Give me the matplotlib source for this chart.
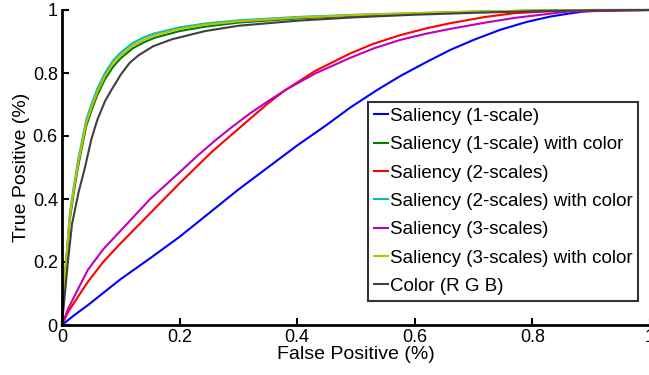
import matplotlib
matplotlib.use("Agg")
import matplotlib.pyplot as plt

plt.rcParams['font.family'] = ['Liberation Sans', 'DejaVu Sans']

# --- data ---
blue_x = [0, 0.02, 0.044, 0.1, 0.15, 0.2, 0.25, 0.3, 0.35, 0.4, 0.45, 0.49, 0.535, 0.575, 0.62, 0.66, 0.7, 0.745, 0.79, 0.83, 0.86, 0.886, 0.92, 0.95, 1.0]
blue_y = [0, 0.03, 0.063, 0.146, 0.212, 0.28, 0.355, 0.43, 0.5, 0.57, 0.635, 0.69, 0.745, 0.79, 0.835, 0.873, 0.905, 0.937, 0.962, 0.979, 0.988, 0.995, 0.999, 1.0, 1.0]

red_x = [0, 0.01, 0.022, 0.044, 0.07, 0.1, 0.15, 0.2, 0.255, 0.32, 0.35, 0.38, 0.43, 0.49, 0.53, 0.575, 0.62, 0.66, 0.72, 0.77, 0.85, 1.0]
red_y = [0, 0.04, 0.075, 0.137, 0.2, 0.26, 0.355, 0.45, 0.55, 0.655, 0.703, 0.746, 0.806, 0.862, 0.893, 0.92, 0.942, 0.958, 0.978, 0.99, 0.998, 1.0]

mag_x = [0, 0.01, 0.022, 0.044, 0.07, 0.1, 0.15, 0.2, 0.232, 0.26, 0.29, 0.32, 0.35, 0.38, 0.43, 0.49, 0.53, 0.575, 0.62, 0.66, 0.72, 0.77, 0.86, 1.0]
mag_y = [0, 0.05, 0.095, 0.175, 0.24, 0.30, 0.40, 0.485, 0.54, 0.585, 0.63, 0.672, 0.71, 0.746, 0.798, 0.848, 0.878, 0.905, 0.925, 0.94, 0.96, 0.975, 0.995, 1.0]

clu_x = [0, 0.003, 0.007, 0.013, 0.02, 0.027, 0.041, 0.05, 0.06, 0.073, 0.087, 0.1, 0.12, 0.14, 0.158, 0.2, 0.243, 0.3, 0.4, 0.5, 0.6, 0.7, 0.8, 0.9, 1.0]
cyan_y = [0, 0.12, 0.2, 0.35, 0.44, 0.52, 0.65, 0.70, 0.75, 0.80, 0.84, 0.865, 0.895, 0.914, 0.926, 0.945, 0.957, 0.967, 0.978, 0.985, 0.99, 0.995, 0.998, 1.0, 1.0]
yel_y = [0, 0.12, 0.2, 0.34, 0.43, 0.51, 0.64, 0.69, 0.74, 0.79, 0.832, 0.857, 0.887, 0.906, 0.92, 0.94, 0.953, 0.964, 0.976, 0.984, 0.99, 0.995, 0.998, 1.0, 1.0]
grn_y = [0, 0.12, 0.2, 0.33, 0.42, 0.50, 0.63, 0.68, 0.73, 0.78, 0.82, 0.847, 0.878, 0.898, 0.912, 0.933, 0.947, 0.96, 0.973, 0.982, 0.988, 0.994, 0.998, 1.0, 1.0]

gray_x = [0, 0.005, 0.01, 0.017, 0.028, 0.039, 0.05, 0.06, 0.073, 0.084, 0.1, 0.115, 0.13, 0.155, 0.187, 0.243, 0.3, 0.4, 0.5, 0.6, 0.7, 0.8, 0.9, 1.0]
gray_y = [0, 0.1, 0.2, 0.32, 0.42, 0.5, 0.59, 0.651, 0.71, 0.746, 0.795, 0.832, 0.856, 0.885, 0.907, 0.933, 0.95, 0.966, 0.977, 0.985, 0.991, 0.996, 0.999, 1.0]

labels = ['Saliency (1-scale)', 'Saliency (1-scale) with color', 'Saliency (2-scales)',
          'Saliency (2-scales) with color', 'Saliency (3-scales)', 'Saliency (3-scales) with color',
          'Color (R G B)']
ticks = [0, 0.2, 0.4, 0.6, 0.8, 1]
tick_labels = ['0', '0.2', '0.4', '0.6', '0.8', '1']

fig = plt.figure(figsize=(6.49, 3.75), dpi=100)
ax = fig.add_axes([62/649, 1-325/375, 588/649, 315/375])

lw = 1.5
series = [
    (blue_x, blue_y, (0, 0, 1)),
    (clu_x, grn_y, (0, 0.5, 0)),
    (red_x, red_y, (1, 0, 0)),
    (clu_x, cyan_y, (0, 0.75, 0.75)),
    (mag_x, mag_y, (0.75, 0, 0.75)),
    (clu_x, yel_y, (0.75, 0.75, 0)),
    (gray_x, gray_y, (0.25, 0.25, 0.25)),
]
for (x, y, c), lab in zip(series, labels):
    ax.plot(x, y, color=c, lw=lw, label=lab, clip_on=False, solid_joinstyle='round')

ax.set_xlim(0, 1)
ax.set_ylim(0, 1)
ax.set_xticks(ticks)
ax.set_xticklabels(tick_labels)
ax.set_yticks(ticks)
ax.set_yticklabels(tick_labels)
ax.tick_params(direction='in', length=5, width=1.5, labelsize=13, pad=3, colors='black')
for s in ['top', 'right']:
    ax.spines[s].set_visible(False)
for s in ['left', 'bottom']:
    ax.spines[s].set_linewidth(2)
ax.set_xlabel('False Positive (%)', fontsize=14, labelpad=0)
ax.set_ylabel('True Positive (%)', fontsize=14, labelpad=2)

leg = ax.legend(loc='upper left', bbox_to_anchor=((368-62)/588, (325-102)/315),
                fontsize=13.5, frameon=True, fancybox=False, edgecolor='black',
                handlelength=0.75, handletextpad=0.1, labelspacing=0.6,
                borderpad=0.3, borderaxespad=0)
leg.get_frame().set_linewidth(1.5)

fig.savefig('out.png', dpi=100)
